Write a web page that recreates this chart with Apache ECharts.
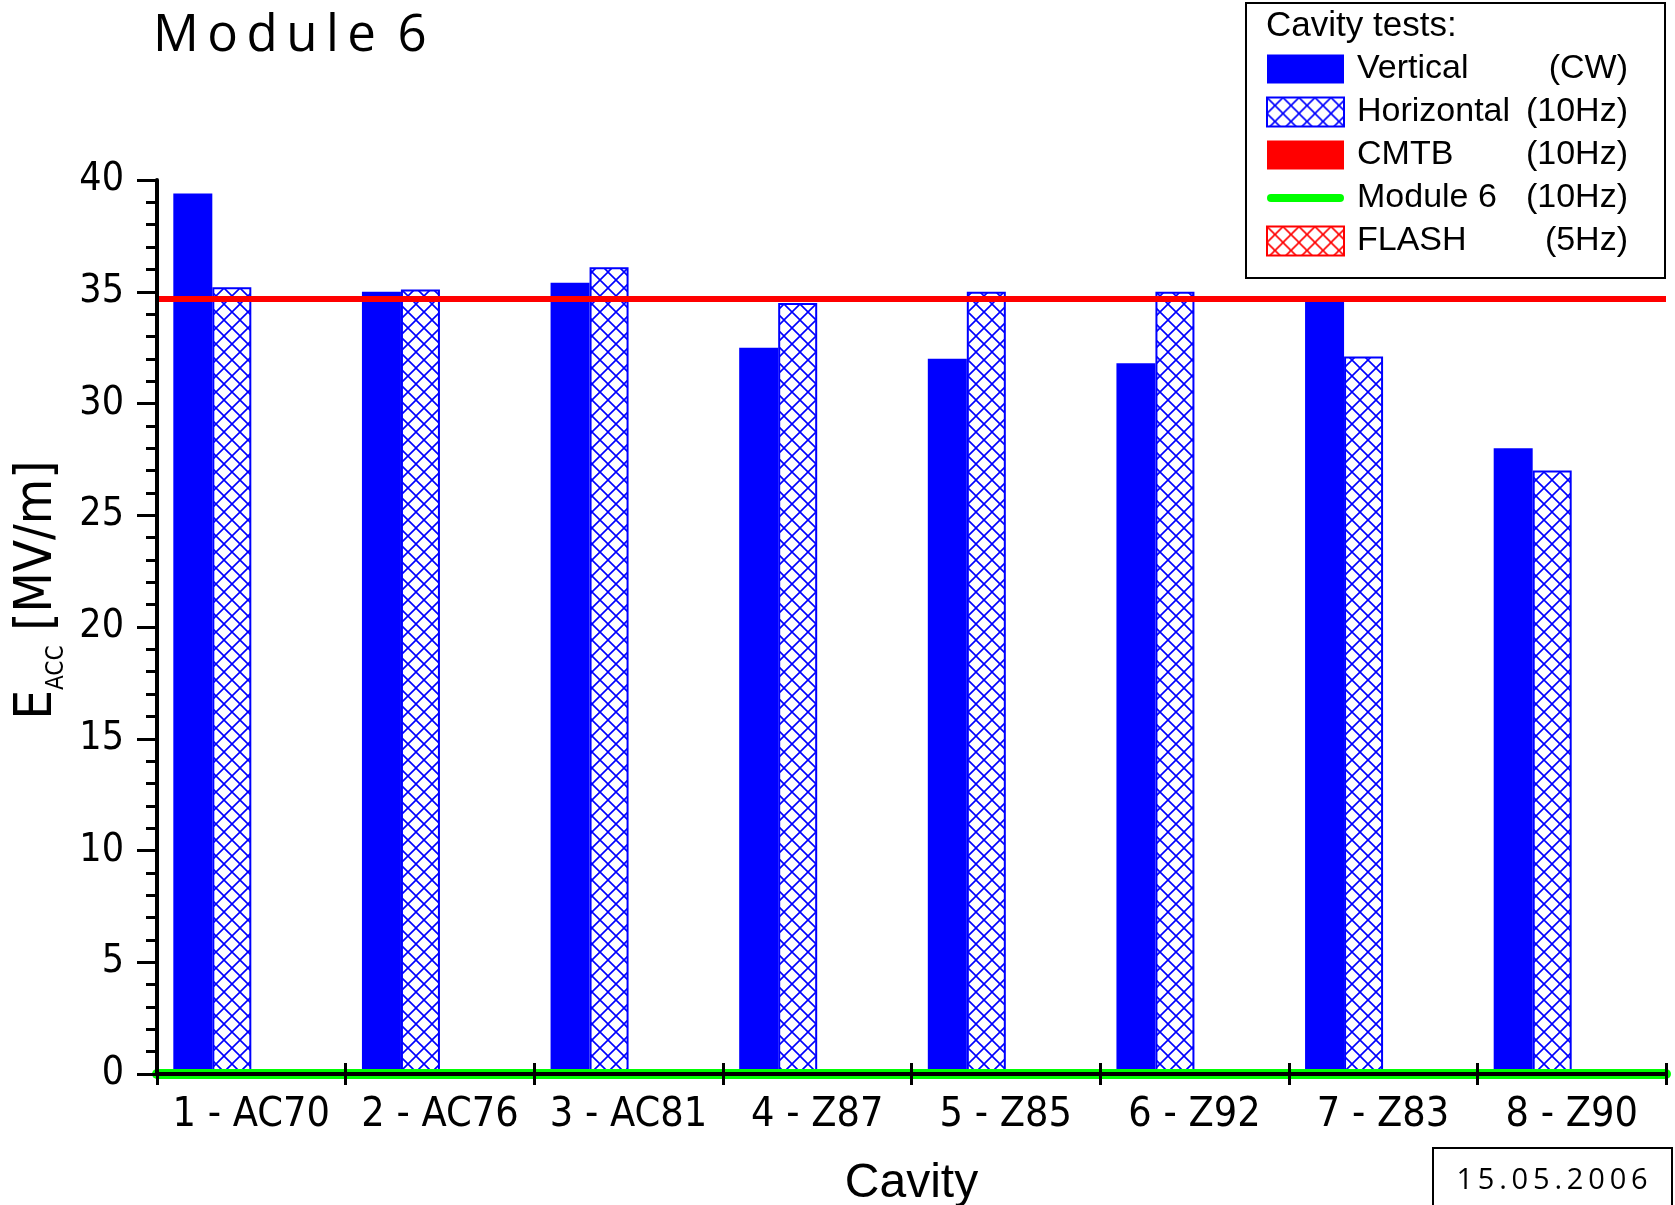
<!DOCTYPE html>
<html>
<head>
<meta charset="utf-8">
<script src="https://cdn.jsdelivr.net/npm/echarts@6/dist/echarts.min.js"></script>
<style>
  html, body { margin: 0; padding: 0; background: #fff; }
  #chart { width: 1675px; height: 1205px; }
</style>
</head>
<body>
<div id="chart"></div>
<script>
// cavities on the x axis
const categories = ["1 - AC70", "2 - AC76", "3 - AC81", "4 - Z87", "5 - Z85", "6 - Z92", "7 - Z83", "8 - Z90"];
// Eacc [MV/m]
const vertical = [39.4, 35.0, 35.4, 32.5, 32.0, 31.8, 34.8, 28.0];
const horizontal = [35.2, 35.1, 36.1, 34.5, 35.0, 35.0, 32.1, 27.0];
const cmtbLevel = 34.7;
const module6Level = 0;
const legendNames = ["Vertical", "Horizontal", "CMTB", "Module 6", "FLASH"];
const legendRates = ["(CW)", "(10Hz)", "(10Hz)", "(10Hz)", "(5Hz)"];
const yTicks = { min: 0, max: 40, interval: 5 };

// pick a condensed face if one is installed, else shrink the plain one
function hasFont(name) {
  const ctx = document.createElement("canvas").getContext("2d");
  const s = "mmmmlliWW 0123456789";
  let diff = false;
  ["monospace", "serif"].forEach(function (base) {
    ctx.font = "40px " + base;
    const a = ctx.measureText(s).width;
    ctx.font = '40px "' + name + '", ' + base;
    const b = ctx.measureText(s).width;
    if (a !== b) diff = true;
  });
  return diff;
}
const narrowFaces = ["Liberation Sans Narrow", "Arial Narrow", "Nimbus Sans Narrow", "DejaVu Sans Condensed"];
const narrowFace = narrowFaces.find(hasFont);
const narrow = narrowFace ? "'" + narrowFace + "', sans-serif" : "'Liberation Sans', Arial, sans-serif";
// font sizes per face: [x labels, y labels, y name, subscript]
let sizes = [38, 37, 48, 22];
if (narrowFace === "DejaVu Sans Condensed") sizes = [41, 39, 52, 24];
else if (narrowFace) sizes = [46, 44, 56, 25];
const arial = "'Liberation Sans', Arial, sans-serif";

// cross hatch fill like the origin plot
function hatch(color) {
  const c = document.createElement("canvas");
  c.width = 16;
  c.height = 16;
  const ctx = c.getContext("2d");
  ctx.fillStyle = "#fff";
  ctx.fillRect(0, 0, 16, 16);
  ctx.strokeStyle = color;
  ctx.lineWidth = 1.6;
  ctx.beginPath();
  for (let i = -16; i <= 16; i += 16) {
    ctx.moveTo(i, 0);
    ctx.lineTo(i + 16, 16);
    ctx.moveTo(i + 16, 0);
    ctx.lineTo(i, 16);
  }
  ctx.stroke();
  return c;
}

const chart = echarts.init(document.getElementById("chart"));

const option = {
  animation: false,
  backgroundColor: "#fff",
  title: {
    text: "M\u2009o\u2009d\u2009u\u2009l\u2009e \u20096",
    left: 148,
    top: 6,
    textStyle: { fontFamily: "'Open Sans', sans-serif", fontSize: 51, fontWeight: "normal", color: "#000" },
  },
  legend: {
    orient: "vertical",
    left: 1246,
    top: 3,
    padding: [49, 37, 20, 20],
    borderColor: "#000",
    borderWidth: 2,
    itemWidth: 77,
    itemHeight: 29,
    itemGap: 9,
    data: [
      { name: "Vertical", icon: "rect" },
      { name: "Horizontal", icon: "rect" },
      { name: "CMTB", icon: "rect" },
      {
        name: "Module 6",
        icon: "path://M0,0L0,0M0,29L0,29M4,10.5L73,10.5A4,4,0,0,1,73,18.5L4,18.5A4,4,0,0,1,4,10.5Z",
      },
      { name: "FLASH", icon: "rect" },
    ],
    formatter: function (name) {
      const i = legendNames.indexOf(name);
      return "{n|" + name + "}{r|" + legendRates[i] + "}";
    },
    textStyle: {
      padding: [0, 0, 0, 8],
      lineHeight: 29,
      rich: {
        n: { width: 167, fontFamily: arial, fontSize: 34, color: "#000", lineHeight: 29 },
        r: { width: 104, align: "right", fontFamily: arial, fontSize: 34, color: "#000", lineHeight: 29 },
      },
    },
  },
  graphic: [
    {
      type: "text",
      left: 1266,
      top: 9,
      style: { text: "Cavity tests:", font: "35px " + arial, fill: "#000" },
    },
    {
      type: "rect",
      shape: { x: 1433, y: 1148, width: 239, height: 70 },
      style: { fill: "#fff", stroke: "#000", lineWidth: 2 },
    },
    {
      type: "text",
      x: 1552,
      y: 1181,
      style: {
        text: "1\u20095\u2009.\u20090\u20095\u2009.\u20092\u20090\u20090\u20096",
        font: "29px 'Open Sans', sans-serif",
        fill: "#000",
        align: "center",
        verticalAlign: "middle",
      },
    },
  ],
  grid: { left: 157, right: 9, top: 180, bottom: 131, outerBoundsMode: "none" },
  xAxis: [
    {
      type: "category",
      data: categories,
      z: 6,
      name: "Cavity",
      nameLocation: "middle",
      nameGap: 86,
      nameMoveOverlap: false,
      nameTextStyle: { fontFamily: arial, fontSize: 48, color: "#000" },
      axisLine: { lineStyle: { color: "#000", width: 4 } },
      axisTick: { show: true, length: 11, lineStyle: { color: "#000", width: 3 } },
      axisLabel: { interval: 0, margin: 21, fontFamily: narrow, fontSize: sizes[0], color: "#000" },
      splitLine: { show: false },
    },
    {
      // second copy only for the upward half of the crossing ticks
      type: "category",
      data: categories,
      position: "top",
      offset: -894,
      z: 6,
      axisLine: { show: false },
      axisTick: { show: true, length: 11, lineStyle: { color: "#000", width: 3 } },
      axisLabel: { show: false },
      splitLine: { show: false },
    },
  ],
  yAxis: {
    type: "value",
    min: yTicks.min,
    max: yTicks.max,
    interval: yTicks.interval,
    z: 6,
    name: "{e|E}{s|ACC}{e| [MV/m]}",
    nameLocation: "middle",
    nameGap: 88,
    nameMoveOverlap: false,
    nameTextStyle: {
      padding: [0, 0, 0, 74],
      rich: {
        e: { fontFamily: narrow, fontSize: sizes[2], color: "#000", lineHeight: 64 },
        s: { fontFamily: narrow, fontSize: sizes[3], color: "#000", lineHeight: 0, verticalAlign: "bottom" },
      },
    },
    axisLine: { show: true, lineStyle: { color: "#000", width: 4 } },
    axisTick: { show: true, length: 20, lineStyle: { color: "#000", width: 3 } },
    minorTick: { show: true, splitNumber: 5, length: 11, lineStyle: { color: "#000", width: 3 } },
    axisLabel: { margin: 33, fontFamily: narrow, fontSize: sizes[1], color: "#000" },
    splitLine: { show: false },
  },
  series: [
    {
      name: "Vertical",
      type: "bar",
      barWidth: 39,
      barGap: "0%",
      itemStyle: { color: "#0000ff" },
      data: vertical,
    },
    {
      name: "Horizontal",
      type: "bar",
      barWidth: 39,
      barGap: "0%",
      itemStyle: { color: { image: hatch("#0000ff"), repeat: "repeat" }, borderColor: "#0000ff", borderWidth: 2 },
      data: horizontal,
    },
    {
      name: "CMTB",
      type: "bar",
      barWidth: 39,
      barGap: "0%",
      itemStyle: { color: "#ff0000" },
      data: [],
      markLine: {
        silent: true,
        symbol: "none",
        label: { show: false },
        lineStyle: { color: "#ff0000", width: 6, type: "solid" },
        data: [{ yAxis: cmtbLevel }],
      },
    },
    {
      name: "Module 6",
      type: "line",
      symbol: "none",
      lineStyle: { color: "#00ff00", width: 8, cap: "round" },
      itemStyle: { color: "#00ff00" },
      data: [],
      markLine: {
        silent: true,
        symbol: "none",
        label: { show: false },
        lineStyle: { color: "#00ff00", width: 10, type: "solid", cap: "round" },
        data: [{ yAxis: module6Level }],
      },
    },
    {
      name: "FLASH",
      type: "bar",
      barWidth: 39,
      barGap: "0%",
      itemStyle: { color: { image: hatch("#ff0000"), repeat: "repeat" }, borderColor: "#ff0000", borderWidth: 2 },
      data: [],
    },
  ],
};

chart.setOption(option);
</script>
</body>
</html>
